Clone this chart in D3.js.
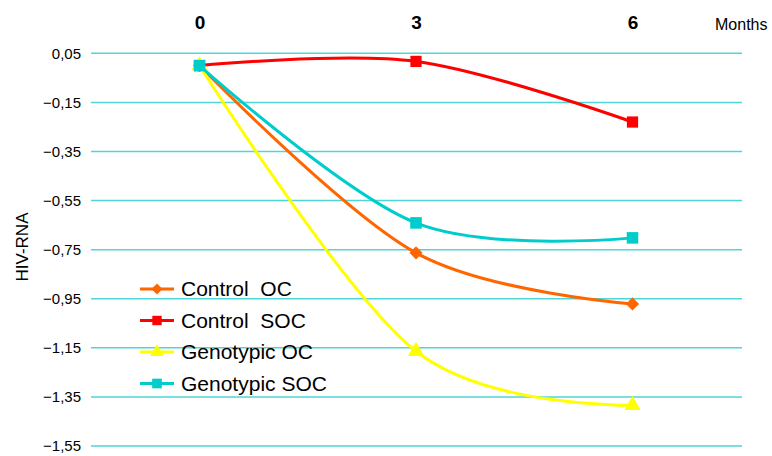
<!DOCTYPE html>
<html>
<head>
<meta charset="utf-8">
<script src="https://cdn.jsdelivr.net/npm/d3@7"></script>
<style>
  body { margin: 0; background: #fff; }
  svg { display: block; font-family: "Liberation Sans", Arial, sans-serif; }
</style>
</head>
<body>
<svg id="chart" width="772" height="456"></svg>
<script>
// data
var months = [0, 3, 6];
var yTicks = [0.05, -0.15, -0.35, -0.55, -0.75, -0.95, -1.15, -1.35, -1.55];
var seriesNames = ["Control  OC", "Control  SOC", "Genotypic OC", "Genotypic SOC"];
var controlOC = [0.0, -0.763, -0.971];
var controlSOC = [0.0, 0.017, -0.23];
var genotypicOC = [0.0, -1.164, -1.384];
var genotypicSOC = [0.0, -0.641, -0.702];

var colors = ["#ff6600", "#ff0000", "#ffff00", "#00cccc"];
var symbols = [d3.symbolDiamond2, d3.symbolSquare2, d3.symbolTriangle2, d3.symbolSquare2];
var symSize = [110, 160, 190, 170];

var series = [controlOC, controlSOC, genotypicOC, genotypicSOC].map(function (vals, i) {
  return { name: seriesNames[i], values: vals, color: colors[i], symbol: symbols[i], size: symSize[i] };
});

var svg = d3.select("#chart");

var x = d3.scaleLinear().domain([0, 6]).range([199.5, 632.5]);
var y = d3.scaleLinear().domain([0.05, -1.55]).range([53.3, 446]);

// gridlines
svg.append("g").selectAll("line")
  .data(yTicks)
  .enter().append("line")
  .attr("x1", 91).attr("x2", 742)
  .attr("y1", function (d) { return y(d); })
  .attr("y2", function (d) { return y(d); })
  .attr("stroke", "#4fd5d5")
  .attr("stroke-width", 1.5);

// y axis labels
var fmt = function (d) { return d3.format(".2f")(d).replace(".", ","); };
svg.append("g").selectAll("text")
  .data(yTicks)
  .enter().append("text")
  .attr("x", 81)
  .attr("y", function (d) { return y(d); })
  .attr("dy", "0.35em")
  .attr("text-anchor", "end")
  .attr("font-size", 15)
  .text(fmt);

// top axis
var xAxis = d3.axisTop(x).tickValues(months).tickFormat(d3.format("d")).tickSize(0).tickPadding(0);
var gx = svg.append("g").attr("transform", "translate(0,29)").call(xAxis);
gx.select(".domain").remove();
gx.selectAll("text")
  .attr("font-size", 19)
  .attr("font-weight", "bold")
  .attr("font-family", "Liberation Sans, Arial, sans-serif")
  .attr("fill", "#000");

svg.append("text")
  .attr("x", 715).attr("y", 30)
  .attr("font-size", 16)
  .text("Months");

svg.append("text")
  .attr("transform", "translate(28,247) rotate(-90)")
  .attr("text-anchor", "middle")
  .attr("font-size", 17)
  .text("HIV-RNA");

// lines
var line = d3.line()
  .x(function (d, i) { return x(months[i]); })
  .y(function (d) { return y(d); })
  .curve(d3.curveCatmullRom.alpha(0));

var draw = [1, 0, 2, 3];
draw.forEach(function (k) {
  var s = series[k];
  var g = svg.append("g");
  g.append("path")
    .attr("d", line(s.values))
    .attr("fill", "none")
    .attr("stroke", s.color)
    .attr("stroke-width", 3);
  g.selectAll("path.m")
    .data(s.values)
    .enter().append("path")
    .attr("class", "m")
    .attr("transform", function (d, i) { return "translate(" + x(months[i]) + "," + y(d) + ")"; })
    .attr("d", d3.symbol().type(s.symbol).size(s.size))
    .attr("fill", s.color);
});

// legend
var leg = svg.append("g").attr("transform", "translate(140,289)");
var rows = leg.selectAll("g").data(series).enter().append("g")
  .attr("transform", function (d, i) { return "translate(0," + (i * 31.5) + ")"; });
rows.append("line")
  .attr("x1", 0).attr("x2", 34)
  .attr("stroke", function (d) { return d.color; })
  .attr("stroke-width", 3);
rows.append("path")
  .attr("transform", "translate(17,0)")
  .attr("d", function (d) { return d3.symbol().type(d.symbol).size(d.size * 0.7)(); })
  .attr("fill", function (d) { return d.color; });
rows.append("text")
  .attr("x", 41).attr("dy", "0.35em")
  .attr("font-size", 21)
  .style("white-space", "pre")
  .text(function (d) { return d.name; });
</script>
</body>
</html>
